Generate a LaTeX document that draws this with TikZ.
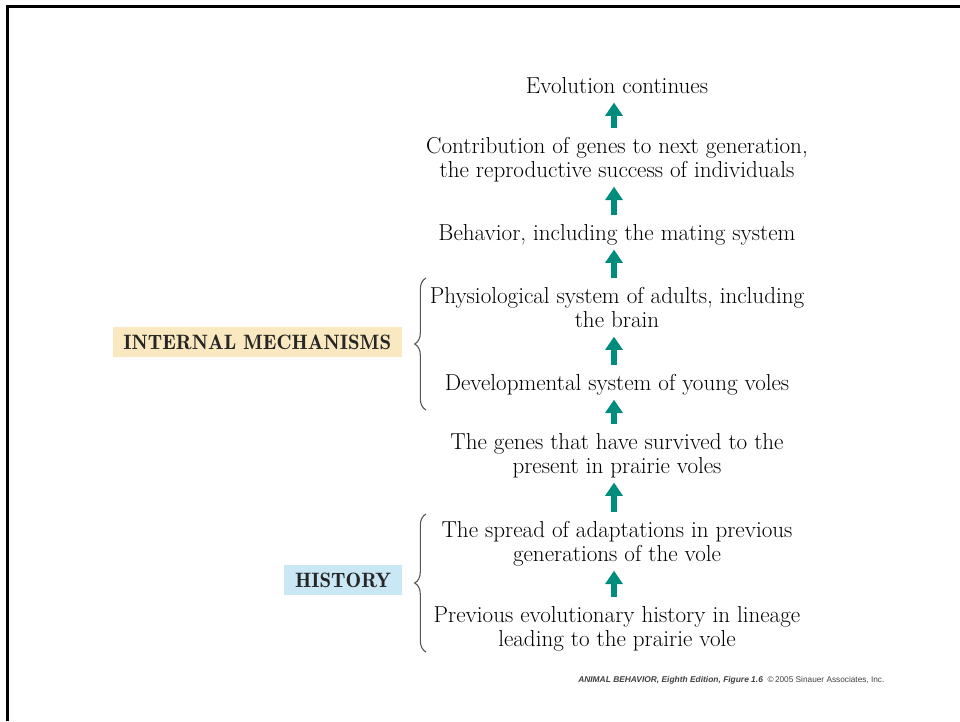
\documentclass[tikz,border=0pt]{standalone}
\usepackage{fontspec}
\newfontfamily\creditfont{Liberation Sans}
\usetikzlibrary{arrows.meta,decorations.pathreplacing}
\definecolor{riseteal}{RGB}{0,140,124}
\definecolor{mechfill}{RGB}{250,233,192}
\definecolor{histfill}{RGB}{202,231,245}
\definecolor{bracegray}{RGB}{85,85,85}
\begin{document}
\begin{tikzpicture}[x=0.75pt,y=-0.75pt,
  stage/.style={align=center,inner sep=0pt,
    font=\fontsize{17.3}{16.5}\selectfont},
  rise/.style={draw=riseteal,line width=4.5pt,
    -{Triangle[width=12.75pt,length=10pt]},
    shorten <=6.5pt,shorten >=1.8pt},
  tag/.style={inner xsep=8pt,inner ysep=0pt,minimum height=22.5pt,
    font=\fontsize{15.6}{16}\fontseries{b}\selectfont,text=black!85},
  grouping/.style={draw=bracegray,line width=0.8pt,decorate,
    decoration={brace,amplitude=8.5pt}}]
\useasboundingbox (0,0) rectangle (960,721);
% page frame
\draw[line width=1.9pt] (7.5,721) -- (7.5,6.5) -- (960,6.5);

% stages of the causal chain, bottom to top
\node[stage] (s1) at (617,88.6) {\strut Evolution continues\strut};
\node[stage] (s2) at (617,160.6) {\strut Contribution of genes to next generation,\\the reproductive success of individuals\strut};
\node[stage] (s3) at (617,235.6) {\strut Behavior, including the mating system\strut};
\node[stage] (s4) at (617,310.6) {\strut Physiological system of adults, including\\the brain\strut};
\node[stage] (s5) at (617,385.6) {\strut Developmental system of young voles\strut};
\node[stage] (s6) at (617,456.6) {\strut The genes that have survived to the\\present in prairie voles\strut};
\node[stage] (s7) at (617,544.6) {\strut The spread of adaptations in previous\\generations of the vole\strut};
\node[stage] (s8) at (617,629.6) {\strut Previous evolutionary history in lineage\\leading to the prairie vole\strut};

% upward arrows
\foreach \lo/\hi in {s2/s1,s3/s2,s4/s3,s5/s4,s6/s5,s7/s6,s8/s7}
  \draw[rise] ([xshift=-2.25pt]\lo.north) -- ([xshift=-2.25pt]\hi.south);

% group labels
\node[tag,fill=mechfill,anchor=east] (mech) at (402,342) {INTERNAL MECHANISMS};
\node[tag,fill=histfill,anchor=east] (hist) at (402,580) {HISTORY};

% braces
\coordinate (mechlo) at (426,410);
\coordinate (mechhi) at (426,278);
\coordinate (histlo) at (426,652);
\coordinate (histhi) at (426,514);
\draw[grouping] (mechlo) -- (mechhi);
\draw[grouping] (histlo) -- (histhi);

% credit line
\node[anchor=west,inner sep=0pt,text=black!75] (credit) at (578,680)
  {\creditfont\fontsize{6.3}{7}\selectfont\bfseries\itshape ANIMAL BEHAVIOR, Eighth Edition, Figure 1.6\ \ \mdseries\upshape\fontsize{6.2}{7}\selectfont \textcopyright\,2005 Sinauer Associates, Inc.};
\end{tikzpicture}
\end{document}
